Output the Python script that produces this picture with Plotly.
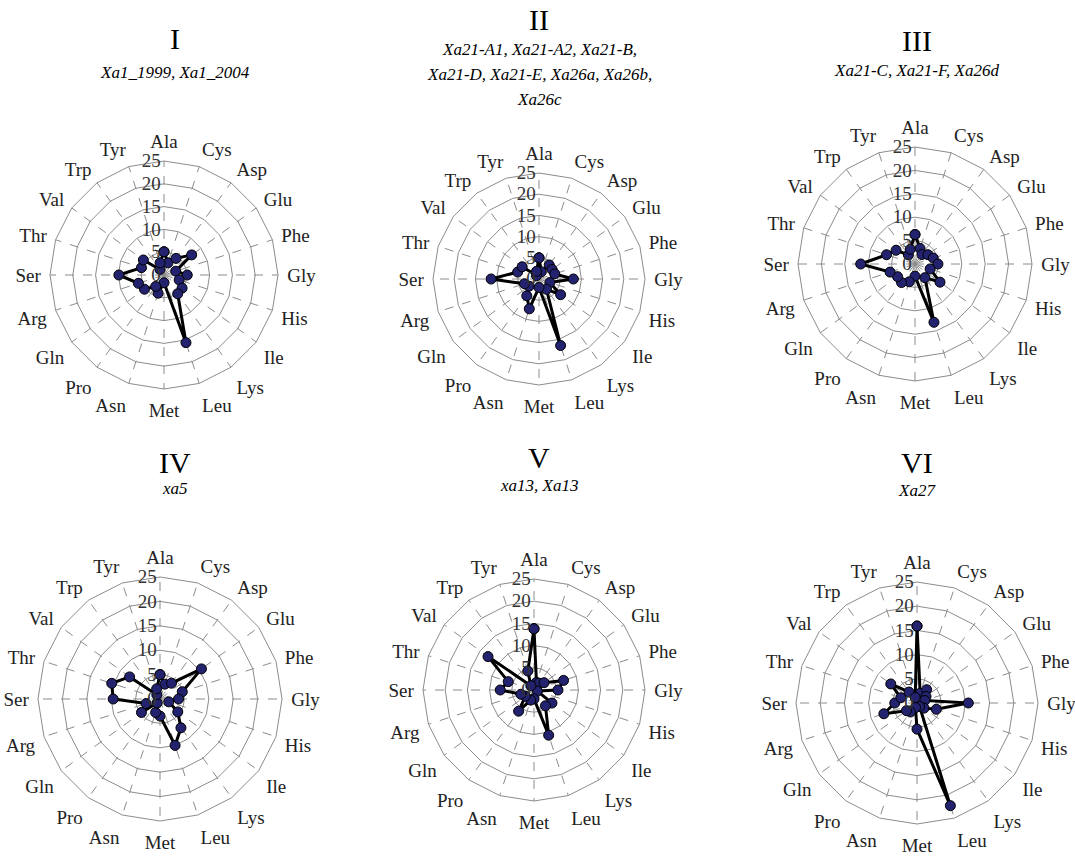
import plotly.graph_objects as go

amino_acids = ["Ala", "Cys", "Asp", "Glu", "Phe", "Gly", "His", "Ile", "Lys", "Leu",
               "Met", "Asn", "Pro", "Gln", "Arg", "Ser", "Thr", "Val", "Trp", "Tyr"]

group_I = [5.1, 2.8, 4.5, 7.5, 2.7, 5.1, 3.5, 4.9, 5.1, 15.6,
           1.7, 4.2, 3.1, 5.3, 5.9, 9.9, 5.2, 5.6, 1.5, 2.8]
group_II = [5.0, 1.8, 4.1, 3.8, 3.9, 8.1, 2.7, 6.3, 3.0, 16.5,
            2.0, 7.4, 4.9, 2.9, 3.6, 11.3, 5.3, 4.9, 1.0, 1.9]
group_III = [6.3, 3.5, 2.5, 3.4, 4.1, 4.9, 3.4, 6.6, 3.6, 13.1,
             2.6, 4.0, 4.9, 4.6, 5.6, 11.6, 6.4, 5.0, 2.4, 3.3]
group_IV = [5.0, 3.2, 4.0, 10.5, 4.8, 3.8, 1.9, 4.5, 7.3, 10.0,
            3.5, 2.9, 1.0, 4.7, 3.0, 9.6, 10.4, 7.7, 1.1, 2.2]
group_V = [13.8, 1.8, 1.9, 2.8, 7.0, 5.4, 0.8, 5.0, 4.4, 10.7,
           2.0, 2.4, 5.9, 2.4, 3.1, 7.6, 6.1, 12.8, 1.2, 4.5]
group_VI = [15.9, 2.1, 3.4, 2.3, 1.7, 10.6, 4.2, 1.8, 0.9, 22.3,
            5.4, 1.0, 2.3, 2.7, 7.2, 4.6, 3.5, 6.7, 2.8, 1.2]

groups = [group_I, group_II, group_III, group_IV, group_V, group_VI]
numerals = ["I", "II", "III", "IV", "V", "VI"]
subtitles = [
    ["Xa1_1999, Xa1_2004"],
    ["Xa21-A1, Xa21-A2, Xa21-B,", "Xa21-D, Xa21-E, Xa26a, Xa26b,", "Xa26c"],
    ["Xa21-C, Xa21-F, Xa26d"],
    ["xa5"],
    ["xa13, Xa13"],
    ["Xa27"],
]
radial_ticks = [0, 5, 10, 15, 20, 25]

# layout (pixels): panel centre and outer radius
W, H = 1075, 859
centers = [(164, 275), (539, 279), (915, 264), (160, 699), (534, 690), (917, 703)]
radii = [114, 106, 117, 122, 111, 121]
title_x = [175, 539, 917, 175, 539, 917]
title_y = [38, 20, 40, 462, 457, 462]
sub_y0 = [72, 50, 70, 488, 485, 490]
sub_step = 25

FONT = "Liberation Serif"
fig = go.Figure()
layout = dict(
    width=W, height=H, margin=dict(l=0, r=0, t=0, b=0),
    paper_bgcolor="white", plot_bgcolor="white", showlegend=False,
    font=dict(family=FONT, size=19, color="#222"),
)
annotations = []
for i, vals in enumerate(groups):
    key = "polar" if i == 0 else f"polar{i+1}"
    cx, cy = centers[i]
    R = radii[i]
    theta = amino_acids + [amino_acids[0]]
    r = vals + [vals[0]]
    fig.add_trace(go.Scatterpolar(
        r=r, theta=theta, mode="lines+markers", subplot=key,
        line=dict(color="black", width=3),
        marker=dict(size=10, color="#22226e", line=dict(color="black", width=1)),
        cliponaxis=False,
    ))
    layout[key] = dict(
        domain=dict(x=[(cx - R) / W, (cx + R) / W], y=[1 - (cy + R) / H, 1 - (cy - R) / H]),
        gridshape="linear",
        bgcolor="white",
        angularaxis=dict(
            type="category", categoryarray=amino_acids, rotation=90, direction="clockwise",
            showline=True, linecolor="#8c8c8c", linewidth=1,
            showgrid=True, gridcolor="#8c8c8c", griddash="dash", gridwidth=1,
            ticks="outside", ticklen=5, tickcolor="rgba(0,0,0,0)",
            tickfont=dict(family=FONT, size=19, color="#222"),
        ),
        radialaxis=dict(
            range=[0, 25], tickvals=radial_ticks, angle=90, tickangle=90,
            side="counterclockwise",
            showline=False, showgrid=True, gridcolor="#8c8c8c", gridwidth=1,
            ticks="", tickfont=dict(family=FONT, size=19, color="#333"),
        ),
    )
    annotations.append(dict(
        text=numerals[i], x=title_x[i] / W, y=1 - title_y[i] / H, xref="paper", yref="paper",
        showarrow=False, xanchor="center", yanchor="middle",
        font=dict(family=FONT, size=30, color="black"),
    ))
    for j, line in enumerate(subtitles[i]):
        annotations.append(dict(
            text=f"<i>{line}</i>", x=title_x[i] / W, y=1 - (sub_y0[i] + j * sub_step) / H,
            xref="paper", yref="paper", showarrow=False, xanchor="center", yanchor="middle",
            font=dict(family=FONT, size=17, color="black"),
        ))
layout["annotations"] = annotations
fig.update_layout(**layout)
fig.write_html("out.html")
